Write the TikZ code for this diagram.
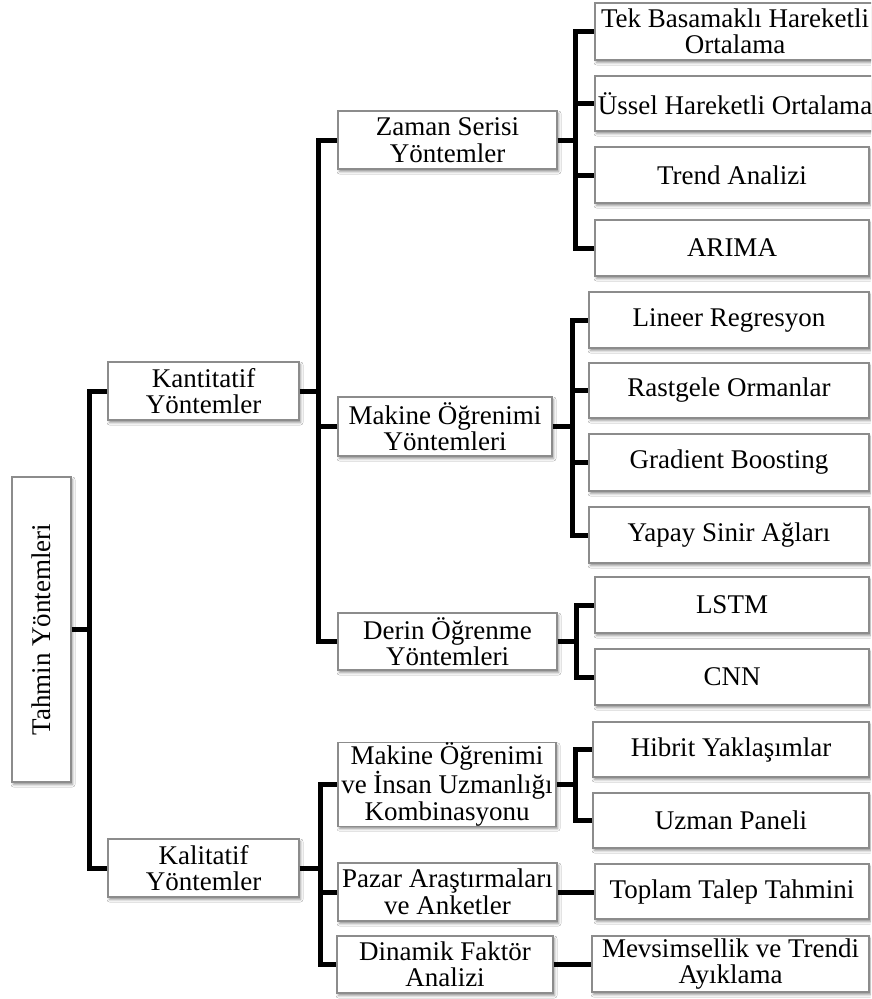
\documentclass[tikz,border=0pt]{standalone}
\usepackage{fontspec}
\usepackage{graphicx}
\setmainfont{Liberation Serif}
\usetikzlibrary{shadows.blur}
\definecolor{boxgray}{RGB}{140,140,140}
\newcommand\boxfont{\fontsize{27}{26.5}\selectfont}
\tikzset{
  box/.style={draw=boxgray, line width=1.1pt, fill=white, inner sep=0pt,
    align=center, font=\boxfont,
    blur shadow={shadow xshift=1.5pt, shadow yshift=-2.5pt,
      shadow blur radius=2.5pt, shadow opacity=45}},
  link/.style={line width=5pt, black}
}
\begin{document}
\begin{tikzpicture}[x=1pt, y=-1pt]
\clip (0,0) rectangle (871,999);
\fill[white] (0,0) rectangle (871,999);

% root
\node[box, minimum width=59, minimum height=305] (root) at (41.5,629.5)
  {\rotatebox{90}{Tahmin Yöntemleri}};

% first level
\node[box, minimum width=191, minimum height=58] (kan) at (203.5,391) {Kantitatif\\Yöntemler};
\node[box, minimum width=191, minimum height=58] (kal) at (203.5,868) {Kalitatif\\Yöntemler};

% second level
\node[box, minimum width=219, minimum height=58] (zaman) at (447.5,140) {Zaman Serisi\\Yöntemler};
\node[box, minimum width=214, minimum height=59] (makine) at (445,426.5) {Makine Öğrenimi\\Yöntemleri};
\node[box, minimum width=219, minimum height=57] (derin) at (447.5,641.5) {Derin Öğrenme\\Yöntemleri};
\node[box, minimum width=218, minimum height=83] (mouk) at (447,784.5) {Makine Öğrenimi\\ve İnsan Uzmanlığı\\Kombinasyonu};
\node[box, minimum width=219, minimum height=58] (pazar) at (447.5,892) {Pazar Araştırmaları\\ve Anketler};
\node[box, minimum width=216, minimum height=57] (dinamik) at (445,964.5) {Dinamik Faktör\\Analizi};

% leaves
\node[box, minimum width=280, minimum height=57] (tek) at (735,31.5) {Tek Basamaklı Hareketli\\Ortalama};
\node[box, minimum width=280, minimum height=55] (ussel) at (735,103.5) {Üssel Hareketli Ortalama};
\node[box, minimum width=274, minimum height=56] (trend) at (732,175) {Trend Analizi};
\node[box, minimum width=274, minimum height=56] (arima) at (732,248) {ARIMA};
\node[box, minimum width=280, minimum height=56] (lineer) at (729,320) {Lineer Regresyon};
\node[box, minimum width=280, minimum height=55] (rast) at (729,390.5) {Rastgele Ormanlar};
\node[box, minimum width=280, minimum height=57] (grad) at (729,462.5) {Gradient Boosting};
\node[box, minimum width=280, minimum height=56] (yapay) at (729,535) {Yapay Sinir Ağları};
\node[box, minimum width=274, minimum height=56] (lstm) at (732,605) {LSTM};
\node[box, minimum width=274, minimum height=56] (cnn) at (732,677) {CNN};
\node[box, minimum width=276, minimum height=55] (hibrit) at (731,749.5) {Hibrit Yaklaşımlar};
\node[box, minimum width=276, minimum height=55] (uzman) at (731,820.5) {Uzman Paneli};
\node[box, minimum width=274, minimum height=55] (toplam) at (732,891.5) {Toplam Talep Tahmini};
\node[box, minimum width=277, minimum height=56] (mevsim) at (730.5,964) {Mevsimsellik ve Trendi\\Ayıklama};

% junction columns
\coordinate (ja) at (89,0);
\coordinate (jb) at (318,0);
\coordinate (jc) at (320,0);
\coordinate (jz) at (575,0);
\coordinate (jm) at (572,0);
\coordinate (jd) at (576,0);
\coordinate (jk) at (575,0);

% connectors
\draw[link] (root.east) -- (root.east -| ja);
\draw[link] (root.east -| ja) |- (kan.west);
\draw[link] (root.east -| ja) |- (kal.west);

\draw[link] (kan.east) -- (kan.east -| jb);
\foreach \c in {zaman,makine,derin} \draw[link] (kan.east -| jb) |- (\c.west);

\draw[link] (kal.east) -- (kal.east -| jc);
\foreach \c in {mouk,pazar,dinamik} \draw[link] (kal.east -| jc) |- (\c.west);

\draw[link] (zaman.east) -- (zaman.east -| jz);
\foreach \c in {tek,ussel,trend,arima} \draw[link] (zaman.east -| jz) |- (\c.west);

\draw[link] (makine.east) -- (makine.east -| jm);
\foreach \c in {lineer,rast,grad,yapay} \draw[link] (makine.east -| jm) |- (\c.west);

\draw[link] (derin.east) -- (derin.east -| jd);
\foreach \c in {lstm,cnn} \draw[link] (derin.east -| jd) |- (\c.west);

\draw[link] (mouk.east) -- (mouk.east -| jk);
\foreach \c in {hibrit,uzman} \draw[link] (mouk.east -| jk) |- (\c.west);

\draw[link] (pazar.east) -- (pazar.east -| toplam.west);
\draw[link] (dinamik.east) -- (dinamik.east -| mevsim.west);
\end{tikzpicture}
\end{document}
